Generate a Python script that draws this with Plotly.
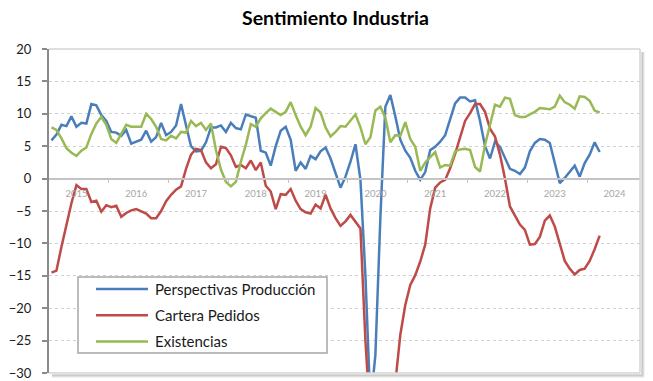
import plotly.graph_objects as go

# Monthly survey balances, Jan 2015 onwards
perspectivas_produccion = [
    5.9, 6.8, 8.3, 8.1, 9.6, 8.0, 8.6, 8.5, 11.5, 11.3, 9.8, 8.9,
    7.2, 7.1, 6.6, 7.5, 5.4, 5.7, 6.0, 7.4, 5.7, 6.4, 8.6, 6.7,
    7.2, 8.2, 11.5, 8.2, 5.0, 4.2, 4.3, 5.6, 7.9, 7.9, 8.2, 7.2,
    8.6, 7.8, 7.6, 9.9, 9.6, 9.4, 4.3, 4.0, 2.0, 5.0, 7.4, 8.0,
    6.0, 1.2, 2.5, 1.5, 3.5, 3.0, 4.2, 4.8, 3.1, 0.8, -1.4, 0.3,
    2.6, 5.3, -0.2, -15.0, -35.0, -27.2, -6.0, 11.1, 12.9, 9.6, 6.0, 4.3,
    3.2, 1.2, -0.2, 1.0, 4.4, 4.9, 5.7, 6.7, 9.2, 11.6, 12.5, 12.5,
    11.9, 12.1, 8.9, 5.0, 3.1, 5.7, 4.9, 3.1, 1.5, 1.2, 0.7, 1.7,
    4.2, 5.5, 6.1, 6.0, 5.5, 2.4, -0.7, 0.1, 1.0, 2.0, 0.3, 2.4,
    3.7, 5.6, 4.1,
]
cartera_pedidos = [
    -14.5, -14.2, -10.5, -7.0, -3.8, -1.0, -1.6, -1.6, -3.6, -3.4, -5.1, -4.1,
    -4.4, -4.2, -5.9, -5.3, -4.9, -4.7, -5.0, -5.4, -6.1, -6.1, -5.0, -3.5,
    -2.5, -1.7, -1.2, 1.5, 3.7, 4.6, 4.4, 2.5, 1.6, 2.2, 4.9, 4.7,
    3.6, 1.8, 2.1, 1.6, 2.8, 1.3, 2.5, -1.1, -2.0, -4.7, -2.4, -2.5,
    -1.6, -3.4, -4.7, -5.2, -5.4, -4.0, -4.6, -2.5, -4.6, -6.1, -7.3, -6.6,
    -5.6, -6.6, -7.7, -25.0, -45.0, -50.0, -47.0, -42.0, -36.0, -31.5, -24.1, -19.5,
    -16.4, -14.9, -12.8, -10.2, -4.6, -1.4, -0.6, -0.2, 1.6, 3.8, 6.5, 8.9,
    10.1, 11.5, 11.5, 10.3, 7.7, 6.5, 3.7, 0.0, -4.3, -5.7, -7.1, -7.9,
    -10.2, -10.1, -9.0, -6.5, -5.7, -7.4, -10.1, -12.7, -13.9, -14.8, -14.1, -13.9,
    -12.7, -10.9, -8.8,
]
existencias = [
    7.9, 7.5, 6.2, 4.7, 4.0, 3.5, 4.3, 4.8, 6.9, 8.5, 9.5, 8.3,
    6.1, 5.5, 6.9, 8.3, 8.0, 8.0, 8.0, 10.0, 9.2, 8.0, 6.1, 5.9,
    6.6, 6.2, 7.2, 7.1, 8.9, 8.1, 8.6, 7.5, 8.5, 4.4, 1.4, -0.5,
    -1.2, -0.5, 2.6, 5.2, 8.4, 8.0, 9.3, 10.1, 10.8, 10.3, 9.8, 10.3,
    11.8, 9.8, 8.0, 6.7, 8.0, 10.9, 10.2, 7.9, 6.5, 7.2, 8.1, 8.0,
    8.9, 9.9, 7.9, 5.3, 6.4, 10.5, 11.1, 9.4, 5.6, 6.7, 6.6, 8.7,
    6.1, 4.9, 1.2, 2.5, 3.3, 4.1, 1.7, 2.1, 2.0, 4.2, 4.5, 4.6,
    4.4, 1.8, 1.1, 5.2, 8.3, 11.4, 11.1, 12.5, 12.3, 9.8, 9.5, 9.5,
    9.9, 10.3, 10.9, 10.8, 10.7, 11.1, 12.8, 11.8, 11.4, 10.8, 12.7, 12.6,
    12.0, 10.5, 10.2,
]
years = ["2015", "2016", "2017", "2018", "2019", "2020", "2021", "2022", "2023", "2024"]

series = [
    ("Perspectivas Producción", perspectivas_produccion, "#4a7ebb"),
    ("Cartera Pedidos", cartera_pedidos, "#be4b48"),
    ("Existencias", existencias, "#98b954"),
]

W, H = 653, 381
ML, MR, MT, MB = 49, 13, 49, 8
PW, PH = W - ML - MR, H - MT - MB


def px_x(p):
    return (p - ML) / PW


def px_y(p):
    return (H - MB - p) / PH


months = list(range(len(perspectivas_produccion)))

fig = go.Figure()
for name, values, color in series:
    fig.add_trace(go.Scatter(
        x=months, y=values, name=name, mode="lines",
        line=dict(color=color, width=2.5), showlegend=False,
    ))

font = "Lato, 'Open Sans', sans-serif"

# plot-area frame (top, right, bottom) with soft drop shadow
shapes = []
sx, sy = 1 / PW, 1 / PH
for k, alpha in ((4, 0.10), (3, 0.18), (2, 0.28)):
    shapes.append(dict(type="line", xref="paper", yref="paper",
                       x0=1 + k * sx, x1=1 + k * sx, y0=-k * sy, y1=1 - 3 * sy,
                       line=dict(color=f"rgba(90,90,90,{alpha})", width=1.5)))
    shapes.append(dict(type="line", xref="paper", yref="paper",
                       x0=3 * sx, x1=1 + k * sx, y0=-k * sy, y1=-k * sy,
                       line=dict(color=f"rgba(90,90,90,{alpha})", width=1.5)))
frame = dict(color="#d4d4d4", width=1.5)
shapes += [
    dict(type="line", xref="paper", yref="paper", x0=0, x1=1, y0=1, y1=1, line=frame),
    dict(type="line", xref="paper", yref="paper", x0=1, x1=1, y0=0, y1=1, line=frame),
    dict(type="line", xref="paper", yref="paper", x0=0, x1=1, y0=0, y1=0, line=frame),
]

# legend box
shapes.append(dict(type="rect", xref="paper", yref="paper", layer="above",
                   x0=px_x(78), x1=px_x(327), y0=px_y(353), y1=px_y(277),
                   fillcolor="white", line=dict(color="#a6a6a6", width=1.5)))
annotations = []
for row, (name, values, color) in enumerate(series):
    yy = px_y(289 + row * 26.2)
    shapes.append(dict(type="line", xref="paper", yref="paper", layer="above",
                       x0=px_x(96), x1=px_x(148), y0=yy, y1=yy,
                       line=dict(color=color, width=2.5)))
    annotations.append(dict(xref="paper", yref="paper", x=px_x(153), y=yy,
                            xanchor="left", yanchor="middle", showarrow=False,
                            text=name, font=dict(family=font, size=15, color="#1a1a1a")))

annotations.append(dict(xref="paper", yref="paper", x=px_x(335.5), y=px_y(17.5),
                        xanchor="center", yanchor="middle", showarrow=False,
                        text="<b>Sentimiento Industria</b>",
                        font=dict(family=font, size=19.5, color="#000000")))

fig.update_layout(
    width=W, height=H,
    margin=dict(l=ML, r=MR, t=MT, b=MB, pad=0, autoexpand=False),
    showlegend=False,
    paper_bgcolor="white", plot_bgcolor="white",
    font=dict(family=font),
    shapes=shapes, annotations=annotations,
    xaxis=dict(
        range=[-0.5, 118.1], anchor="free", position=0.6, automargin=False,
        showgrid=False, zeroline=False,
        showline=True, linecolor="#c4c4c4", linewidth=2,
        tickmode="array", tickvals=[5 + 12 * k for k in range(len(years))], ticktext=years,
        ticks="", ticklabelstandoff=6,
        tickfont=dict(family=font, size=9.5, color="#a6a6a6"),
        minor=dict(tickmode="array", tickvals=[12 * k - 0.5 for k in range(1, 10)],
                   ticks="outside", ticklen=3, tickwidth=1, tickcolor="#c4c4c4", showgrid=False),
    ),
    yaxis=dict(
        range=[-30, 20], tickmode="linear", tick0=-30, dtick=5, automargin=False,
        showgrid=True, gridcolor="#d0d0d0", gridwidth=1.3, griddash="dot",
        zeroline=False,
        showline=True, linecolor="#8a8a8a", linewidth=2,
        ticks="outside", ticklen=5, tickwidth=1.5, tickcolor="#8a8a8a",
        ticklabelstandoff=8,
        tickfont=dict(family=font, size=13, color="#1a1a1a"),
    ),
)

fig.write_html("out.html")
